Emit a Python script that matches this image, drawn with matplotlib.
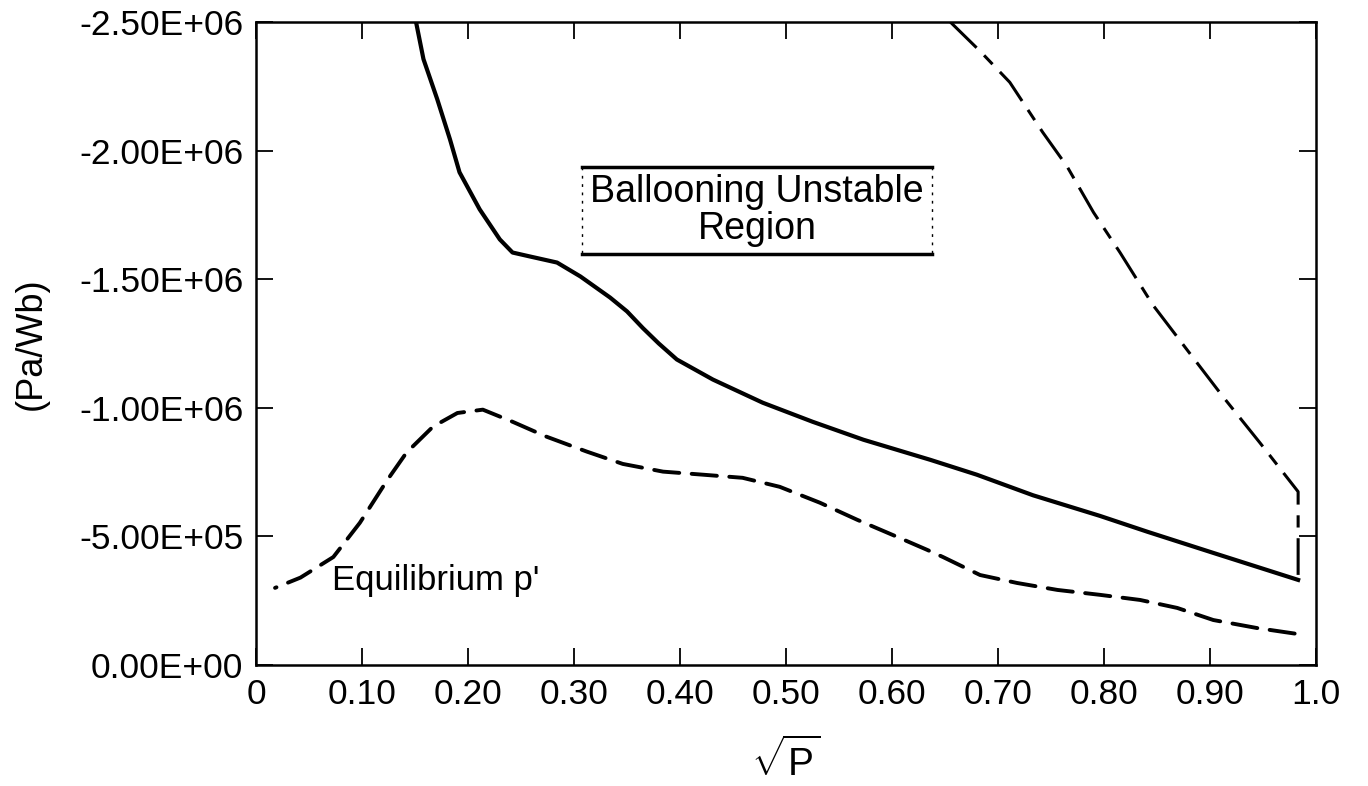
import matplotlib
matplotlib.use('Agg')
import matplotlib.pyplot as plt
import matplotlib as mpl

#-------------------------------------------------------------------------------
#PART 1: Data
#-------------------------------------------------------------------------------

#Ballooning stability boundary (solid)
bound_x = [0.151, 0.158, 0.171, 0.183, 0.192, 0.211, 0.230, 0.242, 0.258, 0.284,
           0.306, 0.334, 0.350, 0.365, 0.380, 0.397, 0.431, 0.478, 0.525, 0.573,
           0.636, 0.680, 0.733, 0.796, 0.841, 0.903, 0.983]
bound_y = [2.500, 2.356, 2.200, 2.044, 1.916, 1.772, 1.655, 1.604, 1.589, 1.565,
           1.511, 1.429, 1.375, 1.310, 1.250, 1.188, 1.110, 1.020, 0.946, 0.876,
           0.798, 0.740, 0.660, 0.580, 0.518, 0.436, 0.331]

#Equilibrium p' (dashed)
equil_x = [0.018, 0.042, 0.073, 0.098, 0.124, 0.142, 0.167, 0.190, 0.214, 0.242,
           0.274, 0.312, 0.346, 0.384, 0.422, 0.459, 0.494, 0.532, 0.567, 0.605,
           0.633, 0.648, 0.683, 0.718, 0.756, 0.796, 0.834, 0.869, 0.903, 0.944,
           0.982]
equil_y = [0.300, 0.340, 0.420, 0.553, 0.720, 0.826, 0.927, 0.980, 0.993, 0.946,
           0.888, 0.830, 0.782, 0.752, 0.740, 0.728, 0.693, 0.631, 0.565, 0.498,
           0.448, 0.420, 0.350, 0.319, 0.292, 0.273, 0.253, 0.222, 0.175, 0.144,
           0.121]

#Second stability boundary (dash-dot), closed down to the solid curve at the edge
second_x = [0.655, 0.683, 0.711, 0.742, 0.765, 0.790, 0.815, 0.846, 0.878, 0.912,
            0.947, 0.983, 0.983]
second_y = [2.500, 2.387, 2.266, 2.072, 1.939, 1.760, 1.604, 1.400, 1.227, 1.044,
            0.864, 0.674, 0.331]

scale = -1.0e6

x_ticks = [0, 0.1, 0.2, 0.3, 0.4, 0.5, 0.6, 0.7, 0.8, 0.9, 1.0]
x_labels = ['0', '0.10', '0.20', '0.30', '0.40', '0.50', '0.60', '0.70', '0.80', '0.90', '1.0']
y_ticks = [0, -5.0e5, -1.0e6, -1.5e6, -2.0e6, -2.5e6]
y_labels = ['0.00E+00', '-5.00E+05', '-1.00E+06', '-1.50E+06', '-2.00E+06', '-2.50E+06']

#-------------------------------------------------------------------------------
#PART 2: Graph output
#-------------------------------------------------------------------------------

mpl.rcParams['font.family'] = ['Liberation Sans', 'DejaVu Sans']
mpl.rcParams['mathtext.fontset'] = 'custom'
mpl.rcParams['mathtext.rm'] = 'Liberation Sans'
mpl.rcParams['mathtext.it'] = 'Liberation Sans'

fig = plt.figure(figsize=(13.68, 7.86), dpi=100)
ax = fig.add_axes([0.1871, 0.1539, 0.775, 0.818])

ax.plot(bound_x, [v * scale for v in bound_y], color='black', linewidth=3.0,
        solid_joinstyle='round')
ax.plot(equil_x, [v * scale for v in equil_y], color='black', linewidth=2.8,
        linestyle=(6.1, (6.5, 3.2)), dash_capstyle='round')
ax.plot(second_x, [v * scale for v in second_y], color='black', linewidth=2.2,
        dashes=(12, 3.5, 4, 3.5))

#Box around the label
ax.plot([0.3075, 0.638], [-1.935e6, -1.935e6], color='black', linewidth=2.5)
ax.plot([0.3075, 0.638], [-1.597e6, -1.597e6], color='black', linewidth=2.5)
ax.plot([0.3075, 0.3075], [-1.935e6, -1.597e6], color='black', linewidth=1.0,
        dashes=(2, 4))
ax.plot([0.638, 0.638], [-1.935e6, -1.597e6], color='black', linewidth=1.0,
        dashes=(2, 4))

ax.text(0.4726, -1.838e6, 'Ballooning Unstable', fontsize=27,
        ha='center', va='center')
ax.text(0.4726, -1.695e6, 'Region', fontsize=27, ha='center', va='center')
ax.text(0.072, -0.33e6, "Equilibrium p'", fontsize=25, ha='left', va='center')

ax.set_xlim(0, 1.0)
ax.set_ylim(0, -2.5e6)
ax.set_xticks(x_ticks, x_labels)
ax.set_yticks(y_ticks, y_labels)

ax.tick_params(which='major', direction='in', length=12, width=1.3,
               top=True, right=True, labelsize=25.5, pad=9)
for side in ['left', 'right', 'top', 'bottom']:
    ax.spines[side].set_linewidth(1.8)

ax.set_ylabel('(Pa/Wb)', fontsize=26, labelpad=22)
ax.set_xlabel(r'$\sqrt{\mathrm{P}}$', fontsize=28, labelpad=20)

fig.savefig('out.png', dpi=100)
